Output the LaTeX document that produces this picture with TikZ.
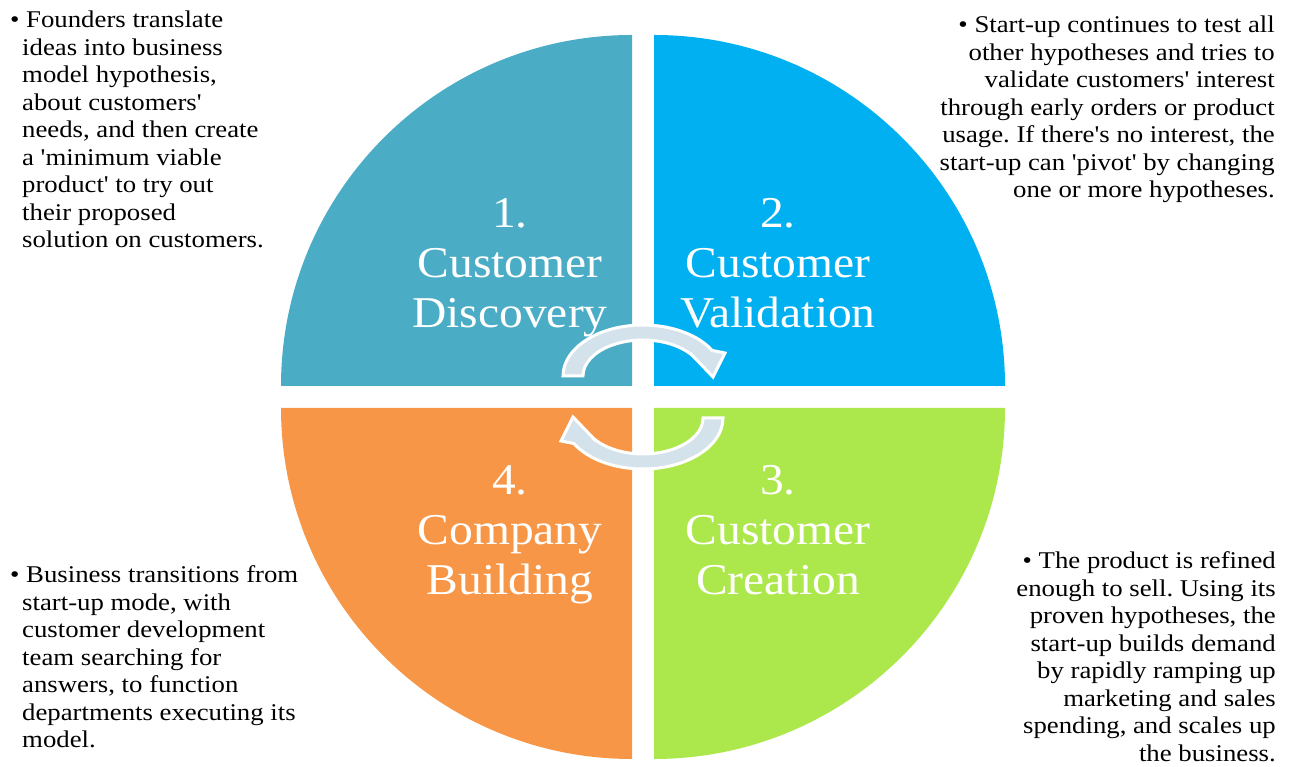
\documentclass[tikz,border=0pt]{standalone}
\usepackage{fontspec}
\setmainfont{Liberation Serif}
\newfontfamily\smallfont[FakeStretch=1.115]{Liberation Serif}
\newfontfamily\bigfont[FakeStretch=1.08]{Liberation Serif}
\definecolor{qA}{HTML}{4BACC6}
\definecolor{qB}{HTML}{00B0F0}
\definecolor{qC}{HTML}{ACE84B}
\definecolor{qD}{HTML}{F79646}
\definecolor{arr}{HTML}{D4E3EB}
\tikzset{
  big/.style={text=white, inner sep=0pt, anchor=base, font=\bigfont\fontsize{44}{50}\selectfont},
  desc/.style={inner sep=0pt, font=\smallfont\fontsize{24}{27.5}\selectfont},
  cyc/.style={fill=arr, draw=white, line width=3pt, line join=miter}
}
\frenchspacing
\begin{document}
\begin{tikzpicture}[x=1pt,y=1pt]
\useasboundingbox (0,0) rectangle (1293,767);
% quadrants
\fill[qA] (632,381) -- (281,381) arc[start angle=180,end angle=90,radius=351] -- cycle;
\fill[qB] (654,381) -- (654,732) arc[start angle=90,end angle=0,radius=351] -- cycle;
\fill[qC] (654,359) -- (1005,359) arc[start angle=0,end angle=-90,radius=351] -- cycle;
\fill[qD] (632,359) -- (632,8) arc[start angle=270,end angle=180,radius=351] -- cycle;
% quadrant titles
\node[big] (t1) at (510,539) {\parbox[t]{320pt}{\centering 1.\\Customer\\Discovery}};
\node[big] (t2) at (778,539) {\parbox[t]{320pt}{\centering 2.\\Customer\\Validation}};
\node[big] (t3) at (778,272) {\parbox[t]{320pt}{\centering 3.\\Customer\\Creation}};
\node[big] (t4) at (510,272) {\parbox[t]{320pt}{\centering 4.\\Company\\Building}};
% circular arrows
\coordinate (O) at (643,370);
\begin{scope}[shift={(O)}]
\path[cyc] (-80,21) arc[start angle=180,end angle=30,x radius=80,y radius=51]
  -- (82,44) -- (70,20) -- (47,44) -- (50.3,40.6)
  arc[start angle=33,end angle=180,x radius=60,y radius=36] -- cycle;
\end{scope}
\begin{scope}[shift={(O)},rotate=180]
\path[cyc] (-80,21) arc[start angle=180,end angle=30,x radius=80,y radius=51]
  -- (82,44) -- (70,20) -- (47,44) -- (50.3,40.6)
  arc[start angle=33,end angle=180,x radius=60,y radius=36] -- cycle;
\end{scope}
% descriptions
\node[desc, anchor=base west] (d1) at (22,739) {\parbox[t]{330pt}{\frenchspacing\raggedright\hspace*{-12pt}• Founders translate\\ideas into business\\model hypothesis,\\about customers'\\needs, and then create\\a 'minimum viable\\product' to try out\\their proposed\\solution on customers.}};
\node[desc, anchor=base east] (d2) at (1275,734) {\parbox[t]{400pt}{\frenchspacing\raggedleft • Start-up continues to test all\\other hypotheses and tries to\\validate customers' interest\\through early orders or product\\usage. If there's no interest, the\\start-up can 'pivot' by changing\\one or more hypotheses.}};
\node[desc, anchor=base west] (d4) at (22,184) {\parbox[t]{330pt}{\frenchspacing\raggedright\hspace*{-12pt}• Business transitions from\\start-up mode, with\\customer development\\team searching for\\answers, to function\\departments executing its\\model.}};
\node[desc, anchor=base east] (d3) at (1276,198) {\parbox[t]{330pt}{\frenchspacing\raggedleft • The product is refined\\enough to sell. Using its\\proven hypotheses, the\\start-up builds demand\\by rapidly ramping up\\marketing and sales\\spending, and scales up\\the business.}};
\end{tikzpicture}
\end{document}
